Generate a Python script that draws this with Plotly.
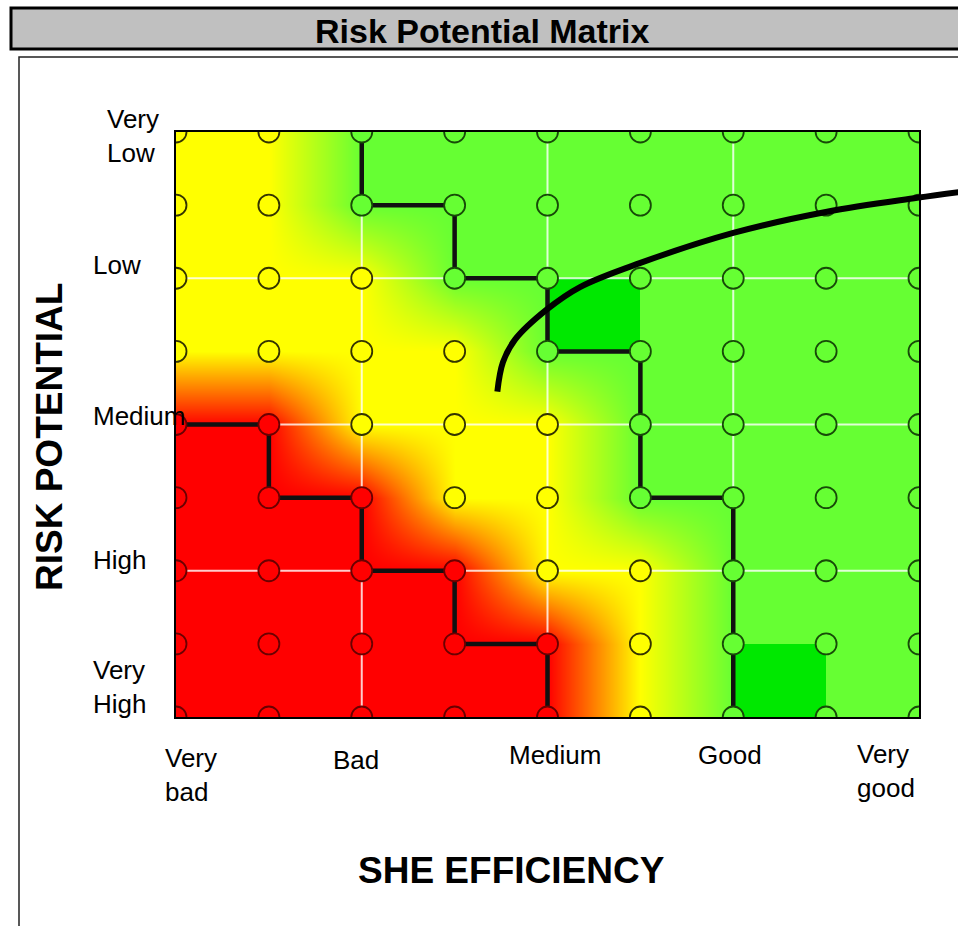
import numpy as np
import plotly.graph_objects as go

# ------------------------------------------------------------------ data
TITLE = "Risk Potential Matrix"
X_TITLE = "SHE EFFICIENCY"
Y_TITLE = "RISK POTENTIAL"

EFFICIENCY_LABELS = ["Very<br>bad", "Bad", "Medium", "Good", "Very<br>good"]
RISK_LABELS = ["Very<br>Low", "Low", "Medium", "High", "Very<br>High"]

# grid nodes: x = efficiency step (0 very bad .. 8 very good),
#             y = risk step (0 very low at top .. 8 very high at bottom)
NODE_X = [0, 1, 2, 3, 4, 5, 6, 7, 8]
NODE_Y = [0, 1, 2, 3, 4, 5, 6, 7, 8]

# risk level at every node: 0 = red, 1 = yellow, 2 = green
NODE_LEVEL = [
    [1, 1, 2, 2, 2, 2, 2, 2, 2],
    [1, 1, 2, 2, 2, 2, 2, 2, 2],
    [1, 1, 1, 2, 2, 2, 2, 2, 2],
    [1, 1, 1, 1, 2, 2, 2, 2, 2],
    [0, 0, 1, 1, 1, 2, 2, 2, 2],
    [0, 0, 0, 1, 1, 2, 2, 2, 2],
    [0, 0, 0, 0, 1, 1, 2, 2, 2],
    [0, 0, 0, 0, 0, 1, 2, 2, 2],
    [0, 0, 0, 0, 0, 1, 2, 2, 2],
]

# two cells highlighted in darker green (cell centres)
DARK_CELL_X = [4.5, 6.5]
DARK_CELL_Y = [2.5, 7.5]

# boundary between yellow and green zone
GREEN_STEP_X = [2, 2, 3, 3, 4, 4, 5, 5, 6, 6]
GREEN_STEP_Y = [0, 1, 1, 2, 2, 3, 3, 5, 5, 8]

# boundary between red and yellow zone
RED_STEP_X = [0, 1, 1, 2, 2, 3, 3, 4, 4]
RED_STEP_Y = [4, 4, 5, 5, 6, 6, 7, 7, 8]

# improvement trend curve
TREND_X = [3.46, 3.52, 3.65, 3.99, 4.35, 5.00, 6.00, 7.01, 7.98, 8.50]
TREND_Y = [3.55, 3.15, 2.84, 2.43, 2.12, 1.79, 1.38, 1.09, 0.90, 0.81]

# white guide lines
GRID_X = [2, 4, 6]
GRID_Y = [2, 4, 6]

# ------------------------------------------------------------------ style / layout
W, H = 958, 926
OFF = 0                       # page margin removed via post_script
PL, PR, PT, PB = 176, 919, 132, 717     # plot area in window pixels
FONT = "Arial, Liberation Sans, sans-serif"

RED, YELLOW, GREEN, DARK_GREEN = "#FF0000", "#FFFF00", "#66FF33", "#00E800"
LEVEL_FILL = {0: RED, 1: YELLOW, 2: GREEN}
LEVEL_EDGE = {0: "#6a0000", 1: "#333300", 2: "#174a08"}


def px(x):
    return (x - OFF) / W


def py(y):
    return 1 - (y - OFF) / H


z = np.array(NODE_LEVEL, dtype=float)
nx, ny = len(NODE_X), len(NODE_Y)

fig = go.Figure()

# smooth colour field
fig.add_trace(go.Heatmap(
    x=NODE_X, y=NODE_Y, z=z, zmin=0, zmax=2, zsmooth="best",
    colorscale=[[0, RED], [0.5, YELLOW], [1, GREEN]],
    showscale=False, hoverinfo="skip"))

# darker green cells
cell_c = [i + 0.5 for i in range(nx - 1)]
cell_r = [j + 0.5 for j in range(ny - 1)]
zd = np.full((ny - 1, nx - 1), np.nan)
for cx, cy in zip(DARK_CELL_X, DARK_CELL_Y):
    zd[cell_r.index(cy), cell_c.index(cx)] = 1
fig.add_trace(go.Heatmap(
    x=cell_c, y=cell_r, z=zd, zmin=0, zmax=1,
    colorscale=[[0, DARK_GREEN], [1, DARK_GREEN]],
    showscale=False, hoverinfo="skip"))

# white guide lines
gx, gy = [], []
for g in GRID_X:
    gx += [g, g, None]
    gy += [NODE_Y[0], NODE_Y[-1], None]
for g in GRID_Y:
    gx += [NODE_X[0], NODE_X[-1], None]
    gy += [g, g, None]
fig.add_trace(go.Scatter(x=gx, y=gy, mode="lines",
                         line=dict(color="rgba(255,255,255,0.8)", width=2),
                         hoverinfo="skip", showlegend=False))

# zone boundaries
for sx, sy in ((GREEN_STEP_X, GREEN_STEP_Y), (RED_STEP_X, RED_STEP_Y)):
    fig.add_trace(go.Scatter(x=sx, y=sy, mode="lines",
                             line=dict(color="#111111", width=4.5),
                             hoverinfo="skip", showlegend=False))

# node circles
mx, my, mc, ml = [], [], [], []
for j, yv in enumerate(NODE_Y):
    for i, xv in enumerate(NODE_X):
        lv = NODE_LEVEL[j][i]
        mx.append(xv)
        my.append(yv)
        mc.append(LEVEL_FILL[lv])
        ml.append(LEVEL_EDGE[lv])
fig.add_trace(go.Scatter(x=mx, y=my, mode="markers",
                         marker=dict(size=21, color=mc, symbol="circle",
                                     line=dict(color=ml, width=1.8)),
                         hoverinfo="skip", showlegend=False))

# trend curve on a wider invisible x-axis with identical scale
fig.add_trace(go.Scatter(x=TREND_X, y=TREND_Y, mode="lines", xaxis="x2", yaxis="y",
                         line=dict(color="#000000", width=6, shape="spline"),
                         hoverinfo="skip", showlegend=False))

ax_common = dict(showgrid=False, zeroline=False, showticklabels=False, ticks="",
                 showline=True, mirror=True, linecolor="#000000", linewidth=2,
                 fixedrange=True)
x2_max = NODE_X[-1] * (W + OFF - PL) / (PR - PL)

annotations = []
# title and axis titles
annotations.append(dict(text="<b>%s</b>" % TITLE, x=px(483), y=py(31), xref="paper", yref="paper",
                        showarrow=False, font=dict(family=FONT, size=34, color="#000000"),
                        xanchor="center", yanchor="middle"))
annotations.append(dict(text="<b>%s</b>" % X_TITLE, x=px(512), y=py(870), xref="paper", yref="paper",
                        showarrow=False, font=dict(family=FONT, size=37, color="#000000"),
                        xanchor="center", yanchor="middle"))
annotations.append(dict(text="<b>%s</b>" % Y_TITLE, x=px(50), y=py(437), xref="paper", yref="paper",
                        showarrow=False, textangle=-90,
                        font=dict(family=FONT, size=37, color="#000000"),
                        xanchor="center", yanchor="middle"))

# tick labels (left edge px, centre y px)
X_LABEL_POS = [(163, 775), (331, 760), (507, 755), (696, 755), (855, 771)]
Y_LABEL_POS = [(105, 136), (91, 265), (91, 416), (91, 560), (91, 687)]
for lab, (lx, ly) in zip(EFFICIENCY_LABELS, X_LABEL_POS):
    annotations.append(dict(text=lab, x=px(lx), y=py(ly), xref="paper", yref="paper",
                            showarrow=False, align="left", xanchor="left", yanchor="middle",
                            font=dict(family=FONT, size=26, color="#000000")))
for lab, (lx, ly) in zip(RISK_LABELS, Y_LABEL_POS):
    annotations.append(dict(text=lab, x=px(lx), y=py(ly), xref="paper", yref="paper",
                            showarrow=False, align="left", xanchor="left", yanchor="middle",
                            font=dict(family=FONT, size=26, color="#000000")))

shapes = [
    # panel frame
    dict(type="rect", xref="paper", yref="paper", x0=px(19), x1=px(W + 20), y0=py(H + 20),
         y1=py(57), line=dict(color="#222222", width=1.5), fillcolor="#FFFFFF", layer="below"),
    # title bar
    dict(type="rect", xref="paper", yref="paper", x0=px(11), x1=px(W + 20), y0=py(49), y1=py(8),
         line=dict(color="#000000", width=3), fillcolor="#C0C0C0", layer="below"),
]

fig.update_layout(
    width=W, height=H,
    margin=dict(l=0, r=0, t=0, b=0),
    paper_bgcolor="#FFFFFF", plot_bgcolor="rgba(0,0,0,0)",
    showlegend=False,
    xaxis=dict(domain=[px(PL), px(PR)], range=[NODE_X[0], NODE_X[-1]], anchor="y", **ax_common),
    yaxis=dict(domain=[py(PB), py(PT)], range=[NODE_Y[-1], NODE_Y[0]], anchor="x", **ax_common),
    xaxis2=dict(domain=[px(PL), 1.0], range=[NODE_X[0], x2_max], anchor="y",
                visible=False, fixedrange=True),
    annotations=annotations,
    shapes=shapes,
)

fig.write_html("out.html",
               config={"displayModeBar": False},
               post_script="document.body.style.margin='0';document.body.style.overflow='hidden';")
